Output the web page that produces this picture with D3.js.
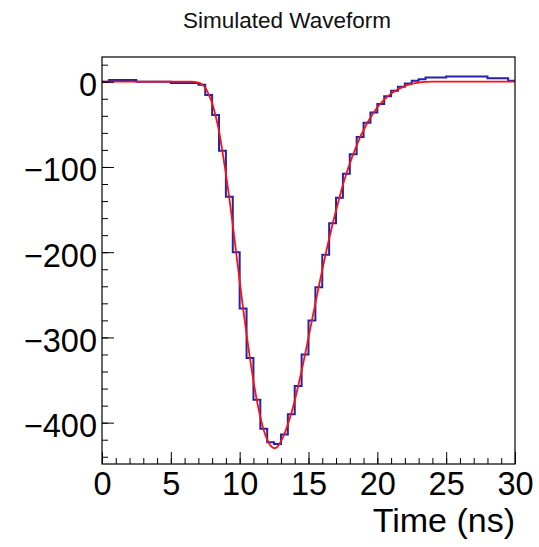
<!DOCTYPE html>
<html>
<head>
<meta charset="utf-8">
<script src="https://cdn.jsdelivr.net/npm/d3@7/dist/d3.min.js"></script>
<style>
  html, body { margin: 0; padding: 0; background: #ffffff; }
  svg { display: block; }
  text { font-family: "Liberation Sans", Arial, Helvetica, sans-serif; fill: #000; }
</style>
</head>
<body>
<svg id="chart" width="539" height="547"></svg>
<script>
// ---- data ----
const chartTitle = "Simulated Waveform";
const xAxisTitle = "Time (ns)";
const binWidthNs = 0.5;
const binLowEdges = d3.range(0, 30, binWidthNs);
const histValues = [
  0, 2, 2, 2, 2, 0, 0, 0, 0, 0,
  -1.5, -1.5, -1.5, -1.5, -3.5, -15.5, -39, -81, -135, -200,
  -266, -324, -373, -407, -423, -425, -414, -390, -357, -320,
  -280, -241, -203, -166, -136, -108, -85, -65, -48, -36,
  -26, -17, -10.5, -6, -2, 1, 3, 5, 5, 5,
  6, 6, 6, 6, 6, 6, 4, 4, 4, 1
];
const fitTimes = [0, 6.5, 6.75, 7, 7.25, 7.5, 7.75, 8, 8.25, 8.5, 8.75, 9, 9.25, 9.5, 9.75,
  10, 10.25, 10.5, 10.75, 11, 11.25, 11.5, 11.75, 12, 12.25, 12.5, 12.75, 13, 13.25, 13.5, 13.75,
  14, 14.25, 14.5, 14.75, 15, 15.25, 15.5, 15.75, 16, 16.25, 16.5, 16.75, 17, 17.25, 17.5, 17.75,
  18, 18.25, 18.5, 18.75, 19, 19.25, 19.5, 19.75, 20, 20.5, 21, 21.5, 22, 22.5, 23, 23.5, 24, 30];
const fitValues = [0, 0, -0.3, -1, -3, -7, -15, -25, -40, -58, -82, -108, -137, -168, -201,
  -234, -266, -296, -325, -351, -374, -393, -409, -420, -427, -430, -428, -422, -413, -402, -389,
  -374, -357, -339, -320, -300, -280, -260, -240, -221, -202, -184, -167, -151, -136, -121, -108,
  -96, -85, -75, -65, -57, -49, -42, -36, -30, -21, -14, -9, -5, -2.5, -1, -0.3, 0, 0];
const xMajorTicks = [0, 5, 10, 15, 20, 25, 30];
const yMajorTicks = [0, -100, -200, -300, -400];

// ---- layout ----
const frame = { left: 102, right: 515, top: 57, bottom: 464 };
const svg = d3.select("#chart");

const x = d3.scaleLinear().domain([0, 30]).range([frame.left, frame.right]);
const y = d3.scaleLinear().domain([-448.5, 29]).range([frame.bottom, frame.top]);

// title
svg.append("text")
  .attr("x", 287).attr("y", 28)
  .attr("text-anchor", "middle")
  .style("font-size", "22.5px")
  .style("fill", "#111")
  .text(chartTitle);

// clip for the data
svg.append("clipPath").attr("id", "clip")
  .append("rect")
  .attr("x", frame.left).attr("y", frame.top)
  .attr("width", frame.right - frame.left).attr("height", frame.bottom - frame.top);

// histogram as steps
const histPts = [];
binLowEdges.forEach((t, i) => {
  histPts.push([t, histValues[i]]);
  histPts.push([t + binWidthNs, histValues[i]]);
});
const lineLin = d3.line().x(d => x(d[0])).y(d => y(d[1]));
svg.append("path")
  .attr("clip-path", "url(#clip)")
  .attr("d", lineLin(histPts))
  .attr("fill", "none")
  .attr("stroke", "#2222aa")
  .attr("stroke-width", 2);

// fit curve
const fitLine = d3.line()
  .x((d, i) => x(fitTimes[i]))
  .y(d => y(d))
  .curve(d3.curveMonotoneX);
svg.append("path")
  .attr("clip-path", "url(#clip)")
  .attr("d", fitLine(fitValues))
  .attr("fill", "none")
  .attr("stroke", "#ff1010")
  .attr("stroke-width", 1.8);

// x axis
const xMinor = d3.axisBottom(x).tickValues(d3.range(0, 31, 1)).tickSizeInner(-6).tickSizeOuter(0).tickFormat("");
const gxm = svg.append("g").attr("transform", `translate(0,${frame.bottom})`).call(xMinor);
const xMaj = d3.axisBottom(x).tickValues(xMajorTicks).tickSizeInner(-12).tickSizeOuter(0).tickPadding(8).tickFormat(d3.format("d"));
const gx = svg.append("g").attr("transform", `translate(0,${frame.bottom})`).call(xMaj);
[gxm, gx].forEach(g => {
  g.select(".domain").remove();
  g.selectAll("line").attr("stroke", "#000").attr("stroke-width", 1);
});
gx.selectAll("text")
  .style("font-size", "32.5px")
  .attr("font-family", null)
  .attr("y", 31).attr("dy", null);

// y axis
const yMinor = d3.axisLeft(y).tickValues(d3.range(20, -441, -20)).tickSizeInner(-6).tickSizeOuter(0).tickFormat("");
const gym = svg.append("g").attr("transform", `translate(${frame.left},0)`).call(yMinor);
const yMaj = d3.axisLeft(y).tickValues(yMajorTicks).tickSizeInner(-12).tickSizeOuter(0).tickPadding(5).tickFormat(d3.format("d"));
const gy = svg.append("g").attr("transform", `translate(${frame.left},0)`).call(yMaj);
[gym, gy].forEach(g => {
  g.select(".domain").remove();
  g.selectAll("line").attr("stroke", "#000").attr("stroke-width", 1);
});
gy.selectAll("text")
  .style("font-size", "32.5px")
  .attr("font-family", null)
  .attr("dy", "0.43em");

// frame
svg.append("rect")
  .attr("x", frame.left).attr("y", frame.top)
  .attr("width", frame.right - frame.left).attr("height", frame.bottom - frame.top)
  .attr("fill", "none").attr("stroke", "#000").attr("stroke-width", 1.2);

// x axis title
svg.append("text")
  .attr("x", 515).attr("y", 532)
  .attr("text-anchor", "end")
  .style("font-size", "34px")
  .text(xAxisTitle);
</script>
</body>
</html>
